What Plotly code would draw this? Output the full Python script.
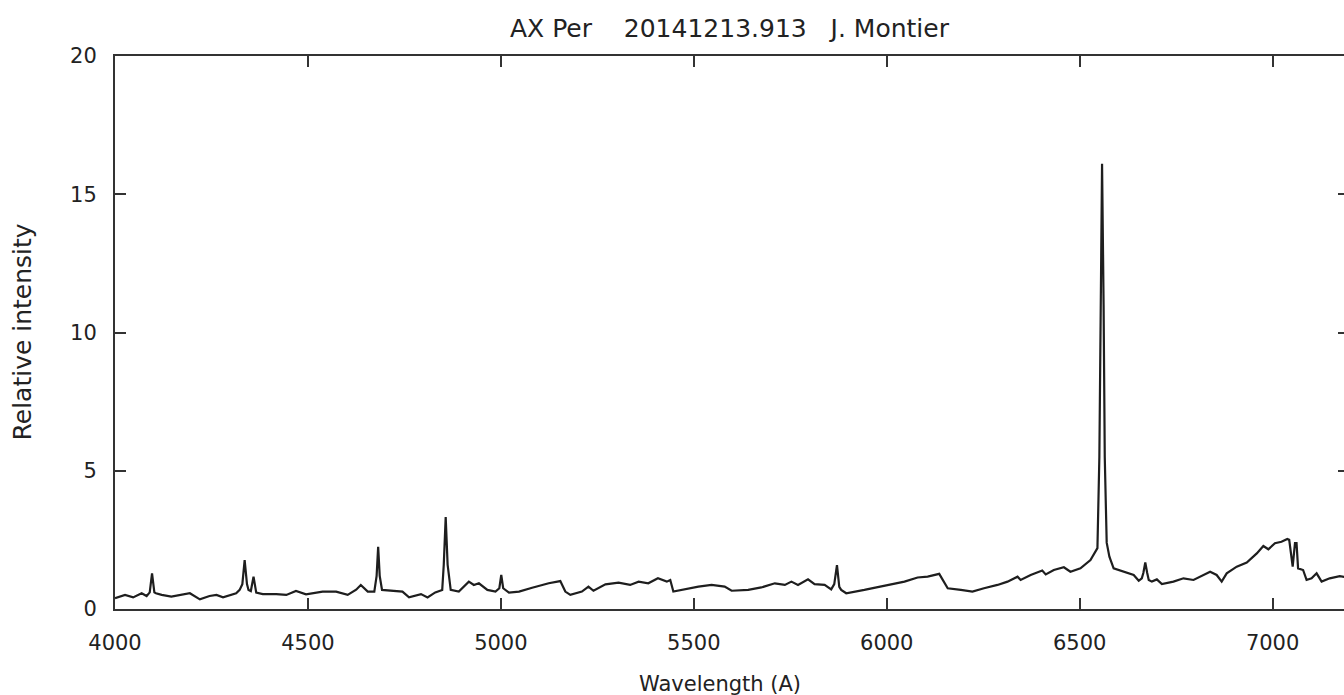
import plotly.graph_objects as go

# spectrum (wavelength in A, relative intensity)
wavelength = [4000, 4026, 4047, 4069, 4082, 4090, 4096, 4102, 4106, 4121, 4146, 4170, 4194, 4220,
              4245, 4263, 4280, 4314, 4323, 4330, 4336, 4342, 4346, 4352, 4359, 4366, 4383, 4418,
              4444, 4469, 4495, 4538, 4573, 4603, 4625, 4637, 4655, 4672, 4678, 4682, 4686, 4692,
              4719, 4745, 4762, 4793, 4810, 4830, 4848, 4852, 4857, 4862, 4870, 4891, 4917, 4930,
              4943, 4965, 4986, 4996, 5001, 5006, 5021, 5047, 5081, 5124, 5154, 5167, 5180, 5210,
              5227, 5240, 5271, 5305, 5335, 5357, 5382, 5407, 5430, 5439, 5447, 5469, 5512, 5546,
              5580, 5598, 5641, 5675, 5710, 5736, 5753, 5770, 5796, 5813, 5839, 5856, 5864, 5871,
              5877, 5882, 5895, 5942, 5994, 6046, 6080, 6106, 6136, 6145, 6158, 6192, 6222, 6252,
              6287, 6313, 6339, 6347, 6373, 6403, 6412, 6433, 6459, 6476, 6502, 6528, 6546, 6551,
              6554, 6558, 6562, 6565, 6570, 6577, 6588, 6614, 6640, 6653, 6661, 6665, 6670, 6675,
              6679, 6687, 6700, 6713, 6743, 6769, 6795, 6838, 6855, 6868, 6881, 6907, 6933, 6959,
              6976, 6989, 7006, 7023, 7038, 7043, 7048, 7052, 7056, 7058, 7062, 7066, 7079, 7088,
              7101, 7114, 7127, 7148, 7174, 7190]
intensity = [0.39, 0.51, 0.42, 0.57, 0.47, 0.60, 1.29, 0.60, 0.57, 0.51, 0.45, 0.52, 0.57, 0.35,
             0.47, 0.51, 0.42, 0.57, 0.69, 0.90, 1.77, 0.90, 0.69, 0.65, 1.17, 0.59, 0.54, 0.54,
             0.51, 0.65, 0.53, 0.63, 0.63, 0.51, 0.70, 0.87, 0.63, 0.63, 1.20, 2.25, 1.20, 0.69,
             0.66, 0.63, 0.42, 0.54, 0.42, 0.60, 0.69, 1.60, 3.33, 1.60, 0.69, 0.63, 0.99, 0.87,
             0.93, 0.69, 0.63, 0.75, 1.23, 0.75, 0.59, 0.63, 0.77, 0.93, 1.01, 0.63, 0.51, 0.63,
             0.81, 0.66, 0.89, 0.95, 0.87, 0.99, 0.93, 1.11, 0.99, 1.05, 0.63, 0.69, 0.81, 0.87,
             0.81, 0.66, 0.69, 0.78, 0.93, 0.87, 0.99, 0.87, 1.07, 0.90, 0.87, 0.71, 0.90, 1.59,
             0.80, 0.69, 0.57, 0.69, 0.84, 0.99, 1.14, 1.17, 1.27, 1.05, 0.75, 0.69, 0.63, 0.75,
             0.87, 0.99, 1.17, 1.05, 1.23, 1.39, 1.25, 1.41, 1.51, 1.35, 1.47, 1.77, 2.20, 5.50,
             11.0, 16.1, 11.0, 5.50, 2.40, 1.89, 1.47, 1.35, 1.23, 1.02, 1.11, 1.30, 1.68, 1.30,
             1.05, 0.99, 1.07, 0.90, 0.99, 1.11, 1.05, 1.35, 1.23, 0.99, 1.29, 1.53, 1.68, 2.01,
             2.28, 2.16, 2.38, 2.43, 2.53, 2.50, 2.00, 1.53, 2.10, 2.38, 2.38, 1.47, 1.41, 1.05,
             1.11, 1.29, 0.99, 1.11, 1.19, 1.15]

x_ticks = [4000, 4500, 5000, 5500, 6000, 6500, 7000]
y_ticks = [0, 5, 10, 15, 20]

font = dict(family="Verdana, DejaVu Sans", size=21, color="#222222")
big_font = dict(family="Verdana, DejaVu Sans", size=25, color="#222222")

fig = go.Figure()
fig.add_trace(go.Scatter(x=wavelength, y=intensity, mode="lines",
                         line=dict(color="#1e1e1e", width=2.2), showlegend=False))
# invisible trace so the right-hand axis carries inward ticks only
fig.add_trace(go.Scatter(x=[4000], y=[0], yaxis="y2", mode="lines",
                         line=dict(width=0), showlegend=False, hoverinfo="skip"))

fig.update_layout(
    width=1344, height=695,
    margin=dict(l=115, r=0, t=56, b=86),
    paper_bgcolor="white", plot_bgcolor="white",
    font=font,
    xaxis=dict(range=[4000, 7185], tickvals=x_ticks, ticks="inside", ticklen=11,
               tickwidth=2, tickcolor="#333", showline=True, linecolor="#333", linewidth=2,
               mirror="ticks", showgrid=False, zeroline=False, ticklabelstandoff=14),
    yaxis=dict(range=[0, 20], tickvals=y_ticks, ticks="inside", ticklen=11,
               tickwidth=2, tickcolor="#333", showline=True, linecolor="#333", linewidth=2,
               mirror=False, showgrid=False, zeroline=False, ticklabelstandoff=12),
    yaxis2=dict(range=[0, 20], tickvals=y_ticks, overlaying="y", side="right",
                ticks="inside", ticklen=6, tickwidth=2, tickcolor="#333",
                showticklabels=False, showline=False, showgrid=False, zeroline=False),
    annotations=[
        dict(text="AX Per&nbsp;&nbsp;&nbsp;&nbsp;20141213.913&nbsp;&nbsp;&nbsp;J. Montier",
             xref="paper", yref="paper", x=0.5, y=1, yshift=28, showarrow=False,
             xanchor="center", yanchor="middle", font=big_font),
        dict(text="Wavelength (A)", xref="paper", yref="paper", x=(720 - 115) / 1229, y=0,
             yshift=-75, showarrow=False, xanchor="center", yanchor="middle", font=font),
        dict(text="Relative intensity", xref="paper", yref="paper", x=0, xshift=-93, y=0.5,
             textangle=-90, showarrow=False, xanchor="center", yanchor="middle", font=big_font),
    ],
)

# drop the default page margin so the figure sits at the window's corner
fig.write_html("out.html", config={"displayModeBar": False},
               post_script="document.body.style.margin='0';"
                           "document.body.style.overflow='hidden';")
